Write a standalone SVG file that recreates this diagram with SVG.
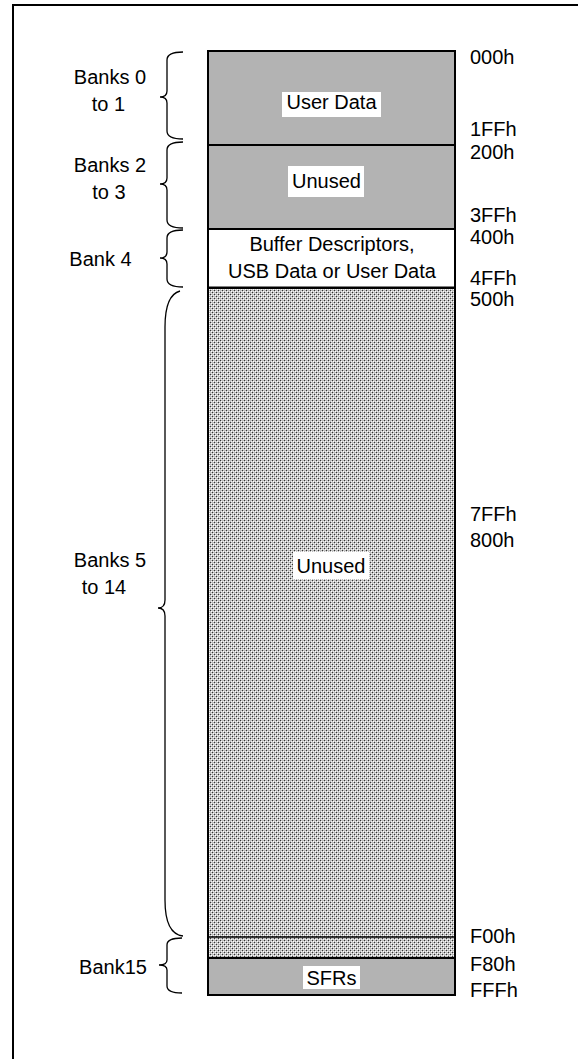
<svg xmlns="http://www.w3.org/2000/svg" width="578" height="1059" viewBox="0 0 578 1059">
<defs>
<pattern id="hatch" width="4" height="4" patternUnits="userSpaceOnUse">
<rect width="4" height="4" fill="#bdbdbd"/>
<rect x="0" y="0" width="1" height="1" fill="#333"/>
<rect x="2" y="2" width="1" height="1" fill="#333"/>
<rect x="1" y="1" width="1" height="1" fill="#fff"/>
<rect x="3" y="3" width="1" height="1" fill="#fff"/>
<rect x="3" y="1" width="1" height="1" fill="#eee"/>
<rect x="1" y="3" width="1" height="1" fill="#eee"/>
</pattern>
</defs>
<style>
text{font-family:"Liberation Sans",Arial,sans-serif;font-size:20px;fill:#000}
.c{text-anchor:middle}
.box{stroke:#000;stroke-width:2}
.gray{fill:#b3b3b3}
.bg{fill:#fff}
.brace{fill:none;stroke:#000;stroke-width:1.3}
</style>
<rect width="578" height="1059" fill="#fff"/>
<g id="frame">
<path d="M13 1059 V5 H578" fill="none" stroke="#000" stroke-width="2"/>
</g>
<g id="hatched-area">
<rect x="208" y="288" width="247" height="670" fill="url(#hatch)" class="box"/>
<line x1="208" y1="937" x2="455" y2="937" stroke="#000" stroke-width="1.5"/>
<rect x="293" y="552" width="76" height="27" class="bg"/>
<text x="331" y="573" class="c">Unused</text>
</g>
<g id="user-data">
<rect x="208" y="51" width="247" height="94" class="gray box"/>
<rect x="282" y="92" width="99" height="25" class="bg"/>
<text x="331.5" y="109" class="c">User Data</text>
</g>
<g id="unused-2-3">
<rect x="208" y="145" width="247" height="84" class="gray box"/>
<rect x="288" y="166" width="76" height="31" class="bg"/>
<text x="326.5" y="188" class="c">Unused</text>
</g>
<g id="bank4">
<rect x="208" y="229" width="247" height="58.5" class="bg box"/>
<text x="332" y="251" class="c">Buffer Descriptors,</text>
<text x="332" y="278" class="c">USB Data or User Data</text>
</g>
<g id="sfrs">
<rect x="208" y="958" width="247" height="37" class="gray box"/>
<rect x="303" y="966" width="57" height="23" class="bg"/>
<text x="331.5" y="985" class="c">SFRs</text>
</g>
<g id="connectors">
<path class="brace" d="M183 52 Q167 52 167 60 L167 91 Q167 97 160 97 Q167 97 167 103 L167 131 Q167 139 183 139"/>
<path class="brace" d="M183 142 Q167 142 167 150 L167 178 Q167 184 160 184 Q167 184 167 190 L167 220 Q167 228 183 228"/>
<path class="brace" d="M183 230 Q167 230 167 238 L167 252 Q167 258 160 258 Q167 258 167 264 L167 279 Q167 287 183 287"/>
<path class="brace" d="M180 291 Q165 295 165 327 L165 600 Q165 608 158 608 Q165 608 165 616 L165 900 Q165 934 183 936"/>
<path class="brace" d="M182 938 Q167 938 167 945 L167 960 Q167 965 159 965 Q167 965 167 970 L167 986 Q167 993 182 993"/>
</g>
<g id="bank-labels">
<text x="110" y="84" class="c">Banks 0</text>
<text x="108.5" y="111" class="c">to 1</text>
<text x="110" y="172" class="c">Banks 2</text>
<text x="109" y="199" class="c">to 3</text>
<text x="100.5" y="266" class="c">Bank 4</text>
<text x="110" y="567" class="c">Banks 5</text>
<text x="104" y="594" class="c">to 14</text>
<text x="113" y="974" class="c">Bank15</text>
</g>
<g id="address-labels">
<text x="470" y="64">000h</text>
<text x="470" y="136">1FFh</text>
<text x="470" y="159">200h</text>
<text x="470" y="222">3FFh</text>
<text x="470" y="244">400h</text>
<text x="470" y="285">4FFh</text>
<text x="470" y="306">500h</text>
<text x="470" y="521">7FFh</text>
<text x="470" y="547">800h</text>
<text x="470" y="943">F00h</text>
<text x="470" y="971">F80h</text>
<text x="470" y="997">FFFh</text>
</g>
</svg>
